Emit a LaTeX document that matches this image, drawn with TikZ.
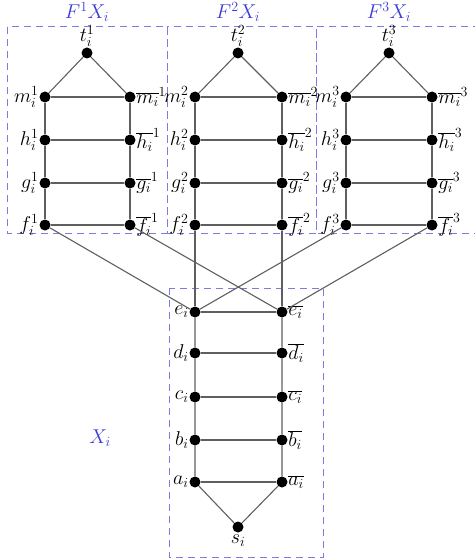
\RequirePackage{fix-cm}
\documentclass[tikz,border=0pt]{standalone}
\usepackage{xcolor}
\definecolor{boxcol}{RGB}{125,125,225}
\definecolor{ttlcol}{RGB}{60,60,210}
\definecolor{edgecol}{RGB}{95,95,95}
\begin{document}
\begin{tikzpicture}[x=1pt,y=-1pt,
  vtx/.style={circle,fill=black,inner sep=0pt,minimum size=11pt},
  edge/.style={draw=edgecol,line width=1.1pt},
  dbox/.style={draw=boxcol,dash pattern=on 7pt off 5pt,line width=1pt},
  lbl/.style={font=\fontsize{20}{24}\selectfont,inner sep=0.5pt},
  ttl/.style={lbl,text=ttlcol}]
\useasboundingbox (0,0) rectangle (474,559);
% dashed boxes
\draw[dbox] (7,27) rectangle (167,233);
\draw[dbox] (167,27) rectangle (316,233);
\draw[dbox] (480,27) -- (316,27) -- (316,233) -- (480,233);
\draw[dbox] (169,288) rectangle (323,557);
% titles
\node[ttl] (T1) at (87,12) {$F^1X_i$};
\node[ttl] (T2) at (238,12) {$F^2X_i$};
\node[ttl] (T3) at (389,12) {$F^3X_i$};
\node[ttl] (TX) at (100,438) {$X_i$};
% top ladders
\foreach \k/\lx/\rx/\tx in {1/45/130/87, 2/195/282/238, 3/346/432/389} {
  \node[vtx] (t\k) at (\tx,53) {};
  \node[lbl,anchor=south] (tl\k) at (t\k.north) {$t_i^{\k}$};
  \foreach \r/\y in {m/97,h/140,g/183,f/225} {
    \node[vtx] (\r\k) at (\lx,\y) {};
    \node[vtx] (\r R\k) at (\rx,\y) {};
    \node[lbl,anchor=east] (\r L\k) at (\r\k.west) {$\r_i^{\k}$};
    \node[lbl,anchor=west] (\r RL\k) at (\r R\k.east) {$\overline{\r_i}^{\k}$};
    \draw[edge] (\r\k) -- (\r R\k);
  }
  \draw[edge] (m\k) -- (t\k) -- (mR\k);
  \draw[edge] (m\k) -- (h\k) -- (g\k) -- (f\k);
  \draw[edge] (mR\k) -- (hR\k) -- (gR\k) -- (fR\k);
}
% bottom ladder
\foreach \r/\y in {e/312,d/353,c/397,b/440,a/482} {
  \node[vtx] (\r) at (195,\y) {};
  \node[vtx] (\r R) at (282,\y) {};
  \node[lbl,anchor=east] (\r L) at (\r.west) {$\r_i$};
  \node[lbl,anchor=west] (\r RL) at (\r R.east) {$\overline{\r_i}$};
  \draw[edge] (\r) -- (\r R);
}
\node[vtx] (s) at (238,527) {};
\node[lbl,anchor=north] (sL) at ([yshift=-1pt]s.south) {$s_i$};
\draw[edge] (e) -- (d) -- (c) -- (b) -- (a) -- (s) -- (aR) -- (bR) -- (cR) -- (dR) -- (eR);
% cross connectors
\draw[edge] (f1) -- (e);
\draw[edge] (fR1) -- (eR);
\draw[edge] (f2) -- (e);
\draw[edge] (fR2) -- (eR);
\draw[edge] (f3) -- (e);
\draw[edge] (fR3) -- (eR);
\end{tikzpicture}
\end{document}
